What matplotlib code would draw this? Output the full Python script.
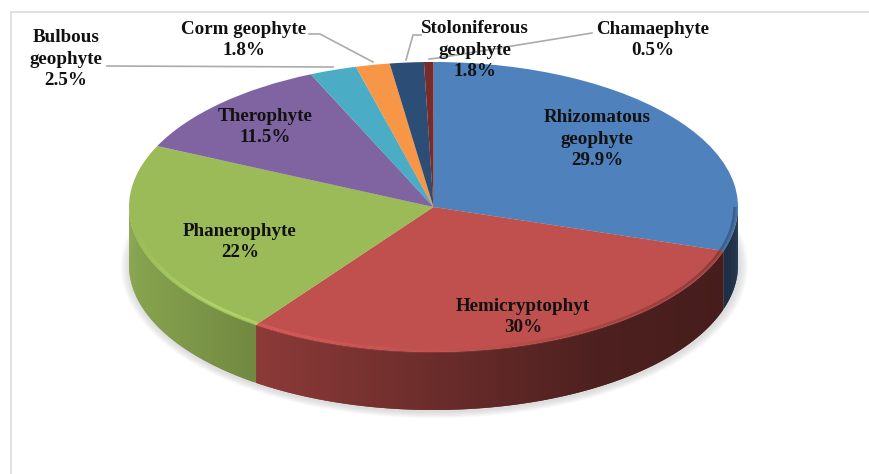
import numpy as np
import matplotlib
matplotlib.use("Agg")
import matplotlib.pyplot as plt
from matplotlib.patches import Ellipse
from matplotlib.collections import LineCollection
from matplotlib.colors import to_rgb

names = ["Rhizomatous\ngeophyte", "Hemicryptophyt", "Phanerophyte", "Therophyte",
         "Bulbous\ngeophyte", "Corm geophyte", "Stoloniferous\ngeophyte", "Chamaephyte"]
values = [29.9, 30, 22, 11.5, 2.5, 1.8, 1.8, 0.5]
colors = ["#4F81BD", "#C0504D", "#9BBB59", "#8064A2", "#4BACC6", "#F79646", "#2C4D75", "#772C2A"]
label_centers = [(597, 139), (523, 317), (240, 242), (265, 127),
                 (66, 59), (244, 40), (475, 50), (653, 40)]
leaders = [None, None, None, None,
           [(107, 66), (333, 67)],
           [(309, 34), (320, 34), (373, 62)],
           [(406, 60), (413, 35), (421, 35)],
           [(429, 59), (438, 58), (592, 33)]]

W, H = 870, 474
CX, CY, RX, RY = 433.5, 207, 304.5, 145
DEPTH = 58 / RY

fig = plt.figure(figsize=(W / 100, H / 100), dpi=100, facecolor="white")
ax = fig.add_axes([0, 0, 1, 1])
wedges, _ = ax.pie(values, colors=colors, startangle=90, counterclock=False,
                   wedgeprops=dict(linewidth=0))
for w in wedges:
    w.set_zorder(3)
ax.set_aspect("auto")
ax.set_xlim(-CX / RX, (W - CX) / RX)
ax.set_ylim((CY - H) / RY, CY / RY)

# soft shadow below the disc
for grow in np.linspace(0.03, 0.003, 10):
    ax.add_patch(Ellipse((0.003, -DEPTH - 0.012), 2 + 2 * grow, 2 + 2 * grow * 1.5,
                         facecolor="#909090", edgecolor="none", alpha=0.03, zorder=0))


def wall_shade(x):
    return np.interp(x, [-1, -0.58, 0, 0.55, 1], [0.88, 0.73, 0.56, 0.40, 0.36])


def rim_factor(x):
    return np.interp(x, [-1, -0.75, -0.5, -0.1, 0.3, 1], [1.0, 1.2, 1.16, 1.05, 0.95, 0.62])


# side wall and rim, following each wedge's own angles
for w, col in zip(wedges, colors):
    base = np.array(to_rgb(col))
    t0, t1 = max(w.theta1, -180), min(w.theta2, 0)
    if t1 <= t0:
        continue
    th = np.radians(np.linspace(t0, t1, max(int((t1 - t0) * 2), 2) + 1))
    xs, ys = np.cos(th), np.sin(th)
    for i in range(len(th) - 1):
        lo = max(i - 1, 0)
        c = np.clip(base * wall_shade((xs[i] + xs[i + 1]) / 2), 0, 1)
        ax.fill_between(xs[lo:i + 2], ys[lo:i + 2], ys[lo:i + 2] - DEPTH,
                        facecolor=c, edgecolor="none", linewidth=0, zorder=1)
    for rad, lw, a in [(0.992, 3.0, 0.35), (0.988, 1.6, 0.6)]:
        pts = np.column_stack([rad * xs, rad * ys])
        segs = np.stack([pts[:-1], pts[1:]], axis=1)
        cols = [tuple(np.clip(base * rim_factor(x), 0, 1)) + (a,) for x in (xs[:-1] + xs[1:]) / 2]
        ax.add_collection(LineCollection(segs, colors=cols, linewidths=lw, zorder=4,
                                         capstyle="butt"))

# pixel-space overlay for the frame, leader lines and labels
ov = fig.add_axes([0, 0, 1, 1], facecolor="none")
ov.set_xlim(0, W)
ov.set_ylim(H, 0)
ov.axis("off")
ov.plot([11.5, 11.5, W], [H, 11.5, 11.5], color="#dcdcdc", lw=1.2, solid_joinstyle="miter")

for path in leaders:
    if path:
        ov.plot(*zip(*path), color="#ababab", lw=1.2, zorder=2)

for name, val, (x, y) in zip(names, values, label_centers):
    ov.text(x, y, f"{name}\n{val:g}%", ha="center", va="center", ma="center",
            family="Liberation Serif", fontweight="bold", fontsize=13.7,
            color="#111111", linespacing=1.37, zorder=5)

fig.savefig("out.png", dpi=100)
